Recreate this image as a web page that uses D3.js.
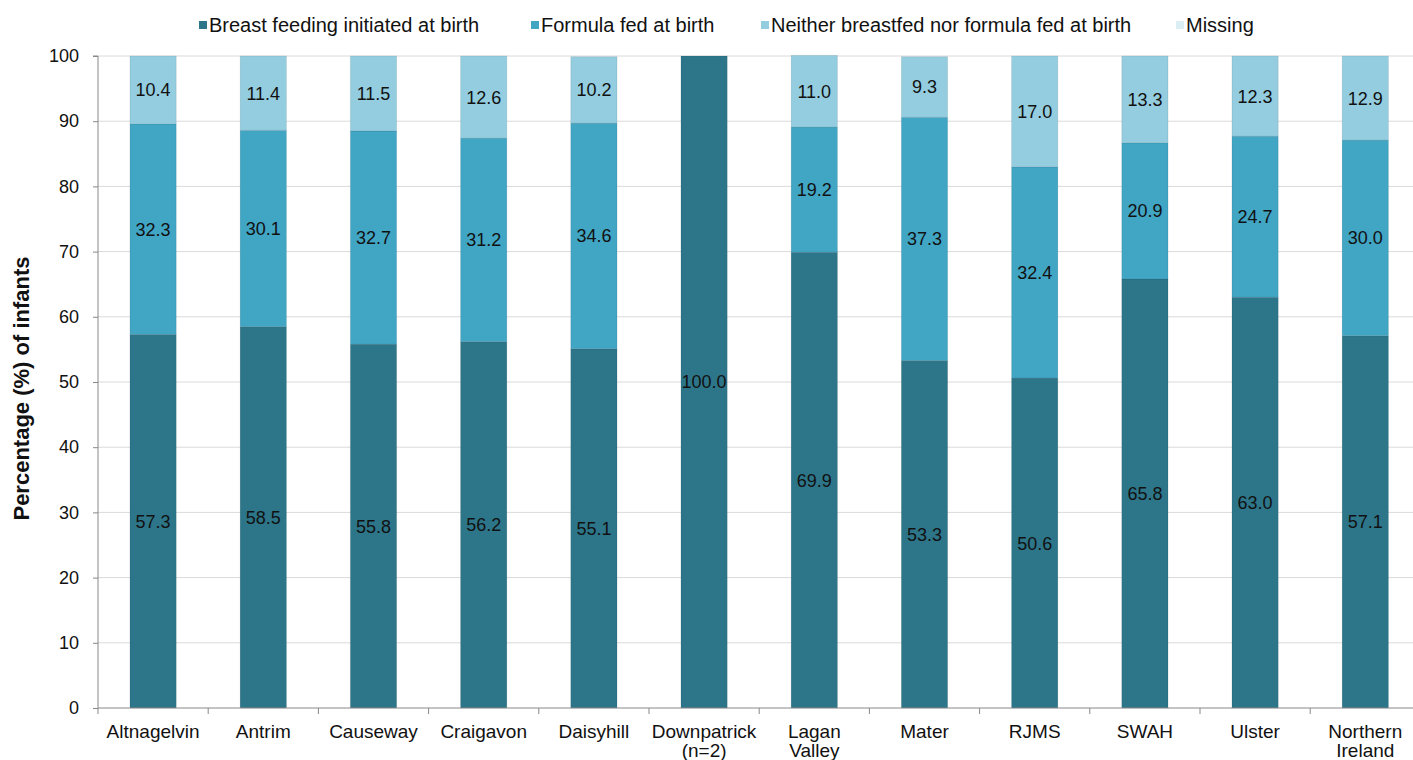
<!DOCTYPE html>
<html>
<head>
<meta charset="utf-8">
<script src="https://cdn.jsdelivr.net/npm/d3@7"></script>
<style>
  html, body { margin: 0; padding: 0; background: #fff; overflow: hidden; }
  svg { display: block; font-family: "Liberation Sans", Arial, sans-serif; }
</style>
</head>
<body>
<svg id="chart" width="1413" height="760"></svg>
<script>
// Hospitals (category labels, two-line labels split on "\n")
const hospitals = ["Altnagelvin", "Antrim", "Causeway", "Craigavon", "Daisyhill",
  "Downpatrick\n(n=2)", "Lagan\nValley", "Mater", "RJMS", "SWAH", "Ulster", "Northern\nIreland"];

// Series values (%)
const breastfed = [57.3, 58.5, 55.8, 56.2, 55.1, 100.0, 69.9, 53.3, 50.6, 65.8, 63.0, 57.1];
const formula   = [32.3, 30.1, 32.7, 31.2, 34.6, 0, 19.2, 37.3, 32.4, 20.9, 24.7, 30.0];
const neither   = [10.4, 11.4, 11.5, 12.6, 10.2, 0, 11.0, 9.3, 17.0, 13.3, 12.3, 12.9];
const missing   = [0, 0, 0, 0, 0, 0, 0, 0, 0, 0, 0, 0];

const seriesNames = ["Breast feeding initiated at birth", "Formula fed at birth",
  "Neither breastfed nor formula fed at birth", "Missing"];
const yTicks = [0, 10, 20, 30, 40, 50, 60, 70, 80, 90, 100];

const colors = ["#2D768A", "#41A5C4", "#93CDDF", "#DBEEF4"];

const rows = hospitals.map((h, i) => ({
  hospital: h, s0: breastfed[i], s1: formula[i], s2: neither[i], s3: missing[i]
}));
const keys = ["s0", "s1", "s2", "s3"];
const stacked = d3.stack().keys(keys)(rows);

const svg = d3.select("#chart");
const margin = { left: 98, top: 56, bottom: 52 };
const step = 110.2;
const plotW = step * hospitals.length;
const plotH = 760 - margin.top - margin.bottom;

const x = d3.scaleBand().domain(hospitals)
  .range([margin.left, margin.left + plotW]).paddingInner(0.58).paddingOuter(0.29);
const y = d3.scaleLinear().domain([0, 100]).range([margin.top + plotH, margin.top]);

// gridlines
svg.append("g").selectAll("line").data(yTicks.filter(t => t > 0)).join("line")
  .attr("x1", margin.left).attr("x2", 1413)
  .attr("y1", d => y(d)).attr("y2", d => y(d))
  .attr("stroke", "#DADADA").attr("stroke-width", 1);

// bars
const layer = svg.append("g").selectAll("g").data(stacked).join("g")
  .attr("fill", (d, i) => colors[i]);
layer.selectAll("rect").data(d => d).join("rect")
  .attr("x", d => x(d.data.hospital))
  .attr("width", x.bandwidth())
  .attr("y", d => y(d[1]))
  .attr("height", d => Math.max(0, y(d[0]) - y(d[1])))
  .attr("stroke", "rgba(0,0,0,0.08)").attr("stroke-width", 1);

// value labels
stacked.forEach((s, si) => {
  svg.append("g").selectAll("text").data(s.filter(d => d[1] - d[0] > 0)).join("text")
    .attr("x", d => x(d.data.hospital) + x.bandwidth() / 2)
    .attr("y", d => y((d[0] + d[1]) / 2))
    .attr("dy", "0.36em")
    .attr("text-anchor", "middle")
    .attr("font-size", 18)
    .attr("fill", "#111")
    .text(d => (d[1] - d[0]).toFixed(1));
});

// y axis
const yAxis = svg.append("g")
  .attr("transform", `translate(${margin.left},0)`)
  .call(d3.axisLeft(y).tickValues(yTicks).tickSize(5).tickPadding(14));
yAxis.select(".domain").attr("stroke", "#888").attr("d", `M-5,${y(100)}H0V${y(0)}`);
yAxis.selectAll(".tick line").attr("stroke", "#888");
yAxis.selectAll(".tick text").attr("font-size", 18).attr("fill", "#111")
  .attr("font-family", "Liberation Sans, Arial, sans-serif");

// x axis
const xAxisG = svg.append("g").attr("transform", `translate(0,${y(0)})`);
xAxisG.append("line").attr("x1", margin.left).attr("x2", 1413)
  .attr("y1", 0).attr("y2", 0).attr("stroke", "#888");
xAxisG.selectAll("line.tk").data(d3.range(hospitals.length + 1)).join("line")
  .attr("class", "tk")
  .attr("x1", i => margin.left + i * step).attr("x2", i => margin.left + i * step)
  .attr("y1", 0).attr("y2", 6).attr("stroke", "#888");
const xl = xAxisG.selectAll("text").data(hospitals).join("text")
  .attr("x", d => x(d) + x.bandwidth() / 2)
  .attr("y", 30)
  .attr("text-anchor", "middle")
  .attr("font-size", 19)
  .attr("fill", "#111");
xl.each(function(d) {
  const parts = d.split("\n");
  d3.select(this).selectAll("tspan").data(parts).join("tspan")
    .attr("x", x(d) + x.bandwidth() / 2)
    .attr("dy", (p, i) => i === 0 ? 0 : 19)
    .text(p => p);
});

// y title
svg.append("text")
  .attr("transform", `translate(29,${y(49)}) rotate(-90)`)
  .attr("text-anchor", "middle")
  .attr("font-size", 22).attr("font-weight", "bold").attr("fill", "#111")
  .text("Percentage (%) of infants");

// legend
const legendX = [199, 531, 761, 1176];
const lg = svg.append("g").selectAll("g").data(seriesNames).join("g")
  .attr("transform", (d, i) => `translate(${legendX[i]},25)`);
lg.append("rect").attr("x", 0).attr("y", -4).attr("width", 8).attr("height", 8)
  .attr("fill", (d, i) => colors[i]);
lg.append("text").attr("x", 10).attr("y", 0).attr("dy", "0.35em")
  .attr("font-size", 20).attr("fill", "#111").text(d => d);
</script>
</body>
</html>
